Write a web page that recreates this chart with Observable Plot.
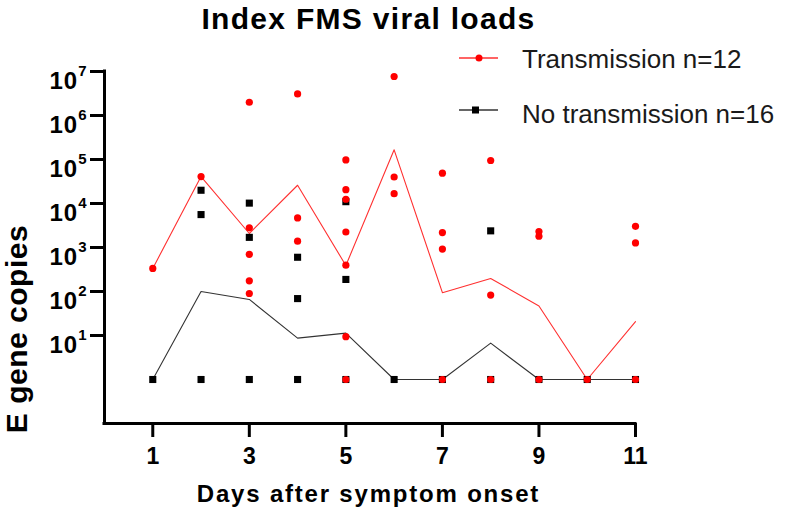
<!DOCTYPE html>
<html>
<head>
<meta charset="utf-8">
<script src="https://cdn.jsdelivr.net/npm/d3@7"></script>
<script src="https://cdn.jsdelivr.net/npm/@observablehq/plot@0.6"></script>
<style>
  body { margin: 0; background: #fff; }
  #chart { position: relative; width: 787px; height: 510px; font-family: "Liberation Sans", Arial, sans-serif; }
  #legend { position: absolute; left: 450px; top: 40px; }
</style>
</head>
<body>
<div id="chart"></div>
<script>
// ---- data (undetectable values plotted at the 10^0 floor) ----
const days = [1, 2, 3, 4, 5, 6, 7, 8, 9, 10, 11];
const transmissionMean   = [335, 41000, 2080, 26000, 390, 166000, 94, 198, 47, 1, 20.6];
const noTransmissionMean = [1, 100, 66, 8.7, 11.3, 1, 1, 6.7, 1, 1, 1];

const transmissionDay   = [1, 2, 3, 3, 3, 3, 3, 4, 4, 4, 5, 5, 5, 5, 5, 5, 5, 6, 6, 6, 7, 7, 7, 7, 8, 8, 8, 9, 9, 9, 10, 11, 11, 11];
const transmissionValue = [335, 41000, 2.0e6, 2800, 700, 175, 90, 3.1e6, 4700, 1390, 98000, 20600, 12500, 2250, 397, 9.4, 1, 7.7e6, 40000, 16700, 49000, 2180, 920, 1, 95000, 83, 1, 2300, 1800, 1, 1, 3030, 1270, 1];

const noTransmissionDay   = [1, 2, 2, 2, 3, 3, 3, 4, 4, 4, 5, 5, 5, 6, 7, 8, 8, 9, 10, 11];
const noTransmissionValue = [1, 20000, 5600, 1, 10200, 1700, 1, 600, 69, 1, 11000, 188, 1, 1, 1, 2390, 1, 1, 1, 1];

const yTicks = [1e1, 1e2, 1e3, 1e4, 1e5, 1e6, 1e7];
const xTicks = [1, 3, 5, 7, 9, 11];

const titleText = "Index FMS viral loads";
const xLabel = "Days after symptom onset";
const yLabel = "E gene copies";
const legendLabels = ["Transmission n=12", "No transmission n=16"];
const legendColors = ["#ff0000", "#000000"];
const legendLineColors = ["#ff3030", "#333333"];
const legendSymbols = ["circle", "square"];

const RED = "#ff0000", RED_LINE = "#ff3030", BLACK = "#000000", BLACK_LINE = "#333333";
const FONT = '"Liberation Sans", Arial, sans-serif';

const plot = Plot.plot({
  width: 787,
  height: 510,
  marginLeft: 104,
  marginRight: 152,
  marginTop: 71,
  marginBottom: 87,
  style: { fontFamily: FONT, color: "#000", background: "transparent", overflow: "visible" },
  x: { domain: [0, 11] },
  y: { type: "log", domain: [0.1, 1e7] },
  marks: [
    Plot.line(days, { x: days, y: transmissionMean, stroke: RED_LINE, strokeWidth: 1.1 }),
    Plot.line(days, { x: days, y: noTransmissionMean, stroke: BLACK_LINE, strokeWidth: 1.1 }),
    Plot.dot(noTransmissionDay, { x: noTransmissionDay, y: noTransmissionValue, symbol: "square", r: 4, fill: BLACK, stroke: "none" }),
    Plot.dot(transmissionDay, { x: transmissionDay, y: transmissionValue, symbol: "circle", r: 3.6, fill: RED, stroke: "none" }),
    Plot.ruleX([0], { strokeWidth: 3, strokeLinecap: "square" }),
    Plot.ruleY([0.1], { strokeWidth: 3, strokeLinecap: "square" }),
    Plot.axisY({ ticks: yTicks, tickSize: 14, tickPadding: 3, strokeWidth: 3, label: null,
      tickFormat: d => String(Math.round(Math.log10(d))), fontSize: 24, fontWeight: "bold" }),
    Plot.axisX({ ticks: xTicks, tickSize: 14, tickPadding: 10, strokeWidth: 3, label: null,
      tickFormat: d => String(d), fontSize: 23, fontWeight: "bold" })
  ]
});

// superscript exponents on the y tick labels: 10^n
const svgSel = d3.select(plot);
svgSel.selectAll('g[aria-label="y-axis tick label"] text').each(function () {
  const t = d3.select(this);
  const e = t.text();
  t.text("10").attr("dy", 10).attr("font-weight", "bold").attr("font-size", 24).style("letter-spacing", "1px");
  t.append("tspan").attr("dy", -13).attr("font-size", 15).text(e);
});
svgSel.selectAll('g[aria-label="x-axis tick label"] text').attr("font-weight", "bold").attr("font-size", 23);

// title and axis titles, positioned from the plot's own scale ranges
const [fx0, fx1] = plot.scale("x").range;
const [fyBottom, fyTop] = plot.scale("y").range;
const cx = (fx0 + fx1) / 2;
const labels = svgSel.append("g").attr("font-family", FONT).attr("font-weight", "bold").attr("fill", "#000").attr("text-anchor", "middle");
labels.append("text").attr("x", cx - 1).attr("y", fyTop - 42).attr("font-size", 30).style("letter-spacing", "1.3px").text(titleText);
labels.append("text").attr("x", cx - 1).attr("y", fyBottom + 79).attr("font-size", 24).style("letter-spacing", "1.8px").text(xLabel);
labels.append("text").attr("transform", `translate(${fx0 - 77},${(fyTop + fyBottom) / 2 + 82}) rotate(-90)`)
  .attr("font-size", 30).style("letter-spacing", "0.5px").text(yLabel);

const chart = document.getElementById("chart");
chart.appendChild(plot);

// legend
const leg = d3.select(chart).append("svg").attr("id", "legend").attr("width", 337).attr("height", 100);
const rowLineY = [18, 70];
const rowTextY = [28, 83];
legendLabels.forEach((lab, i) => {
  const g = leg.append("g");
  g.append("line").attr("x1", 9).attr("x2", 48).attr("y1", rowLineY[i]).attr("y2", rowLineY[i])
    .attr("stroke", legendLineColors[i]).attr("stroke-width", 1.5);
  if (legendSymbols[i] === "circle") {
    g.append("circle").attr("cx", 29).attr("cy", rowLineY[i]).attr("r", 3.5).attr("fill", legendColors[i]);
  } else {
    g.append("rect").attr("x", 22).attr("y", rowLineY[i] - 3.5).attr("width", 7).attr("height", 7).attr("fill", legendColors[i]);
  }
  g.append("text").attr("x", 72).attr("y", rowTextY[i]).attr("font-size", 26)
    .attr("font-family", FONT).attr("fill", "#1a1a1a").text(lab);
});
</script>
</body>
</html>
